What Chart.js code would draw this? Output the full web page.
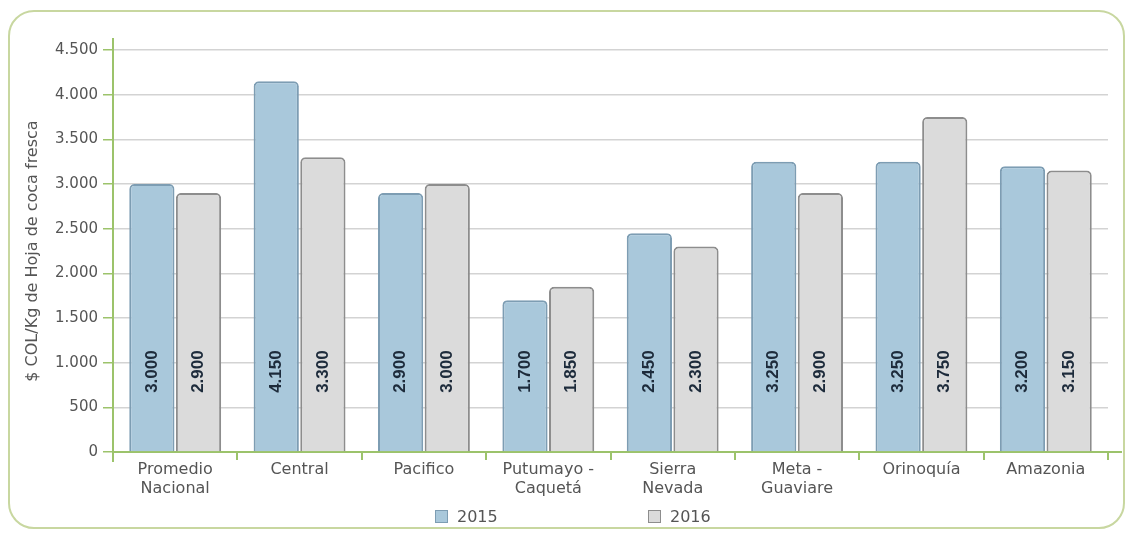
<!DOCTYPE html>
<html>
<head>
<meta charset="utf-8">
<script src="https://cdn.jsdelivr.net/npm/chart.js@4"></script>
<style>
  html, body { margin: 0; padding: 0; background: #fff; }
  #wrap { position: relative; width: 1129px; height: 533px; }
  #frame {
    position: absolute; left: 8px; top: 10px; width: 1117px; height: 519px;
    border: 2px solid #c8d7a0; border-radius: 26px; box-sizing: border-box;
    pointer-events: none;
  }
  #legend {
    position: absolute; top: 507px; left: 0; width: 1129px;
    font: 16px "DejaVu Sans", sans-serif; color: #555;
  }
  #legend span.item { position: absolute; display: flex; align-items: center; }
  #legend span.box { width: 11px; height: 11px; margin-right: 9px; border: 1.5px solid; }
</style>
</head>
<body>
<div id="wrap">
  <canvas id="myCanvas" width="1129" height="533"></canvas>
  <div id="frame"></div>
  <div id="legend"></div>
</div>
<script>
const categories = [
  ["Promedio", "Nacional"], "Central", "Pacifico", ["Putumayo -", "Caquetá"],
  ["Sierra", "Nevada"], ["Meta -", "Guaviare"], "Orinoquía", "Amazonia"
];
const values2015 = [3000, 4150, 2900, 1700, 2450, 3250, 3250, 3200];
const values2016 = [2900, 3300, 3000, 1850, 2300, 2900, 3750, 3150];
const yTicks = [0, 500, 1000, 1500, 2000, 2500, 3000, 3500, 4000, 4500];
const seriesNames = ["2015", "2016"];

const blueFill = "#a9c8db", blueLine = "#7d9db3";
const grayFill = "#dbdbdb", grayLine = "#8d8d8d";
const green = "#9cc36b";

const fmt = (v) => v.toLocaleString("de-DE");

// numbers written upright inside the bars, near the bottom
const barLabels = {
  id: "barLabels",
  afterDatasetsDraw(chart) {
    const ctx = chart.ctx;
    const y = chart.scales.y.getPixelForValue(900);
    ctx.save();
    ctx.font = "bold 17px 'Liberation Sans Narrow', sans-serif";
    ctx.fillStyle = "#1d2b3b";
    ctx.textAlign = "center";
    ctx.textBaseline = "middle";
    chart.data.datasets.forEach((ds, i) => {
      chart.getDatasetMeta(i).data.forEach((bar, j) => {
        ctx.save();
        ctx.translate(bar.x, y);
        ctx.rotate(-Math.PI / 2);
        ctx.fillText(fmt(ds.data[j]), 0, 0);
        ctx.restore();
      });
    });
    ctx.restore();
  }
};

// small stubs of the green axes past the plot area
const axisStubs = {
  id: "axisStubs",
  afterDraw(chart) {
    const { ctx, chartArea } = chart;
    ctx.save();
    ctx.strokeStyle = green;
    ctx.lineWidth = 2;
    ctx.beginPath();
    ctx.moveTo(chartArea.left, chartArea.top - 12);
    ctx.lineTo(chartArea.left, chartArea.top);
    ctx.moveTo(chartArea.left, chartArea.bottom);
    ctx.lineTo(chartArea.left, chartArea.bottom + 10);
    ctx.moveTo(chartArea.right, chartArea.bottom);
    ctx.lineTo(chartArea.right + 14, chartArea.bottom);
    ctx.stroke();
    ctx.restore();
  }
};

const chart = new Chart(document.getElementById("myCanvas"), {
  type: "bar",
  data: {
    labels: categories,
    datasets: [
      {
        label: seriesNames[0], data: values2015,
        backgroundColor: blueFill, borderColor: blueLine,
        borderWidth: 2, borderSkipped: "bottom",
        borderRadius: { topLeft: 5, topRight: 5 }
      },
      {
        label: seriesNames[1], data: values2016,
        backgroundColor: grayFill, borderColor: grayLine,
        borderWidth: 2, borderSkipped: "bottom",
        borderRadius: { topLeft: 5, topRight: 5 }
      }
    ]
  },
  options: {
    responsive: false,
    animation: false,
    layout: { padding: { top: 50, right: 21, bottom: 36, left: 0 } },
    datasets: { bar: { categoryPercentage: 0.75, barPercentage: 0.97 } },
    plugins: { legend: { display: false }, tooltip: { enabled: false } },
    scales: {
      x: {
        afterFit: (s) => { s.height = 45; },
        border: { color: green, width: 2 },
        grid: { drawOnChartArea: false, color: green, tickLength: 8, lineWidth: 2 },
        ticks: {
          color: "#555", padding: 0, maxRotation: 0,
          font: { family: "DejaVu Sans", size: 16 }
        }
      },
      y: {
        min: 0, max: 4500,
        afterFit: (s) => { s.width = 113; },
        afterBuildTicks: (s) => { s.ticks = yTicks.map((v) => ({ value: v })); },
        border: { color: green, width: 2 },
        grid: { color: "#d3d3d3", lineWidth: 1.5, tickColor: green, tickLength: 10 },
        ticks: {
          color: "#555", padding: 5,
          font: { family: "DejaVu Sans", size: 15 },
          callback: (v) => fmt(v)
        },
        title: {
          display: true, text: "$ COL/Kg de Hoja de coca fresca",
          color: "#555", padding: { top: 23, bottom: 0 },
          font: { family: "DejaVu Sans", size: 16 }
        }
      }
    }
  },
  plugins: [barLabels, axisStubs]
});

// legend under the chart
const legend = document.getElementById("legend");
const legendX = [435, 648];
chart.data.datasets.forEach((ds, i) => {
  const item = document.createElement("span");
  item.className = "item";
  item.style.left = legendX[i] + "px";
  const box = document.createElement("span");
  box.className = "box";
  box.style.background = ds.backgroundColor;
  box.style.borderColor = ds.borderColor;
  item.appendChild(box);
  item.appendChild(document.createTextNode(ds.label));
  legend.appendChild(item);
});
</script>
</body>
</html>
